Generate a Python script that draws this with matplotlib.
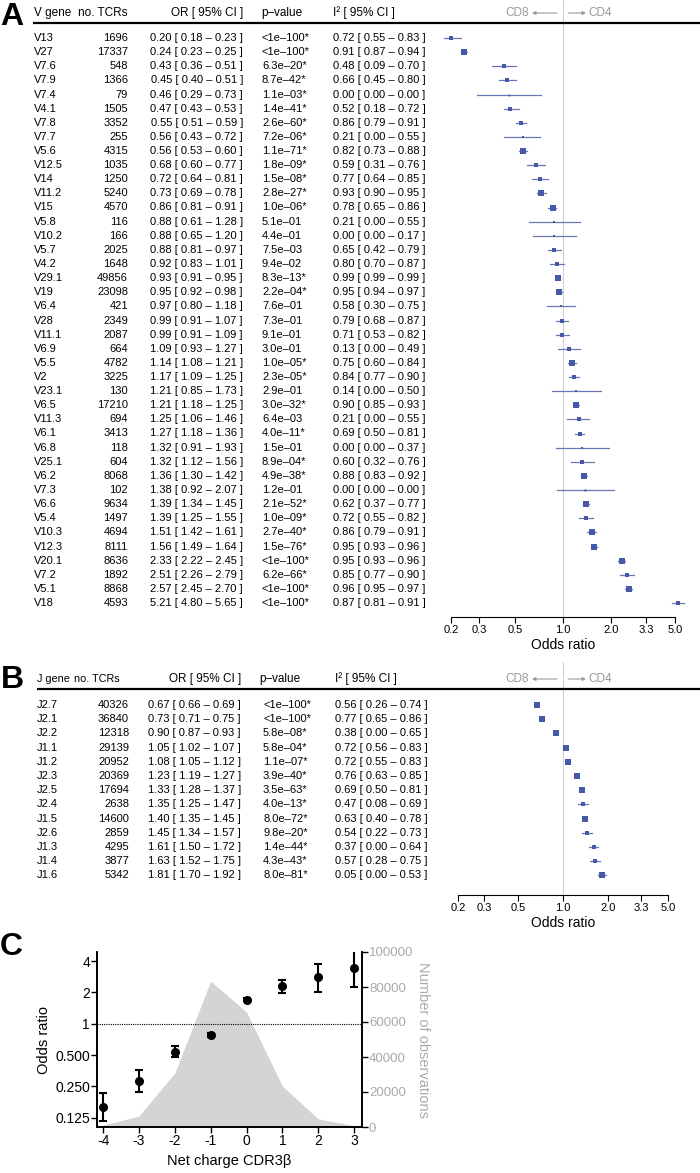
import numpy as np
import matplotlib
matplotlib.use('Agg')
import matplotlib.pyplot as plt
from matplotlib.transforms import blended_transform_factory

plt.rcParams['font.family'] = ['Liberation Sans', 'DejaVu Sans']
plt.rcParams['axes.unicode_minus'] = False

# ---- panel A: V genes ----
v_genes = ['V13', 'V27', 'V7.6', 'V7.9', 'V7.4', 'V4.1', 'V7.8', 'V7.7', 'V5.6', 'V12.5',
           'V14', 'V11.2', 'V15', 'V5.8', 'V10.2', 'V5.7', 'V4.2', 'V29.1', 'V19', 'V6.4',
           'V28', 'V11.1', 'V6.9', 'V5.5', 'V2', 'V23.1', 'V6.5', 'V11.3', 'V6.1', 'V6.8',
           'V25.1', 'V6.2', 'V7.3', 'V6.6', 'V5.4', 'V10.3', 'V12.3', 'V20.1', 'V7.2', 'V5.1', 'V18']
v_n = [1696, 17337, 548, 1366, 79, 1505, 3352, 255, 4315, 1035,
       1250, 5240, 4570, 116, 166, 2025, 1648, 49856, 23098, 421,
       2349, 2087, 664, 4782, 3225, 130, 17210, 694, 3413, 118,
       604, 8068, 102, 9634, 1497, 4694, 8111, 8636, 1892, 8868, 4593]
v_or = [0.20, 0.24, 0.43, 0.45, 0.46, 0.47, 0.55, 0.56, 0.56, 0.68,
        0.72, 0.73, 0.86, 0.88, 0.88, 0.88, 0.92, 0.93, 0.95, 0.97,
        0.99, 0.99, 1.09, 1.14, 1.17, 1.21, 1.21, 1.25, 1.27, 1.32,
        1.32, 1.36, 1.38, 1.39, 1.39, 1.51, 1.56, 2.33, 2.51, 2.57, 5.21]
v_lo = [0.18, 0.23, 0.36, 0.40, 0.29, 0.43, 0.51, 0.43, 0.53, 0.60,
        0.64, 0.69, 0.81, 0.61, 0.65, 0.81, 0.83, 0.91, 0.92, 0.80,
        0.91, 0.91, 0.93, 1.08, 1.09, 0.85, 1.18, 1.06, 1.18, 0.91,
        1.12, 1.30, 0.92, 1.34, 1.25, 1.42, 1.49, 2.22, 2.26, 2.45, 4.80]
v_hi = [0.23, 0.25, 0.51, 0.51, 0.73, 0.53, 0.59, 0.72, 0.60, 0.77,
        0.81, 0.78, 0.91, 1.28, 1.20, 0.97, 1.01, 0.95, 0.98, 1.18,
        1.07, 1.09, 1.27, 1.21, 1.25, 1.73, 1.25, 1.46, 1.36, 1.93,
        1.56, 1.42, 2.07, 1.45, 1.55, 1.61, 1.64, 2.45, 2.79, 2.70, 5.65]
v_p = ['<1e–100*', '<1e–100*', '6.3e–20*', '8.7e–42*', '1.1e–03*', '1.4e–41*', '2.6e–60*',
       '7.2e–06*', '1.1e–71*', '1.8e–09*', '1.5e–08*', '2.8e–27*', '1.0e–06*', '5.1e–01',
       '4.4e–01', '7.5e–03', '9.4e–02', '8.3e–13*', '2.2e–04*', '7.6e–01', '7.3e–01',
       '9.1e–01', '3.0e–01', '1.0e–05*', '2.3e–05*', '2.9e–01', '3.0e–32*', '6.4e–03',
       '4.0e–11*', '1.5e–01', '8.9e–04*', '4.9e–38*', '1.2e–01', '2.1e–52*', '1.0e–09*',
       '2.7e–40*', '1.5e–76*', '<1e–100*', '6.2e–66*', '<1e–100*', '<1e–100*']
v_i2 = [0.72, 0.91, 0.48, 0.66, 0.00, 0.52, 0.86, 0.21, 0.82, 0.59,
        0.77, 0.93, 0.78, 0.21, 0.00, 0.65, 0.80, 0.99, 0.95, 0.58,
        0.79, 0.71, 0.13, 0.75, 0.84, 0.14, 0.90, 0.21, 0.69, 0.00,
        0.60, 0.88, 0.00, 0.62, 0.72, 0.86, 0.95, 0.95, 0.85, 0.96, 0.87]
v_i2lo = [0.55, 0.87, 0.09, 0.45, 0.00, 0.18, 0.79, 0.00, 0.73, 0.31,
          0.64, 0.90, 0.65, 0.00, 0.00, 0.42, 0.70, 0.99, 0.94, 0.30,
          0.68, 0.53, 0.00, 0.60, 0.77, 0.00, 0.85, 0.00, 0.50, 0.00,
          0.32, 0.83, 0.00, 0.37, 0.55, 0.79, 0.93, 0.93, 0.77, 0.95, 0.81]
v_i2hi = [0.83, 0.94, 0.70, 0.80, 0.00, 0.72, 0.91, 0.55, 0.88, 0.76,
          0.85, 0.95, 0.86, 0.55, 0.17, 0.79, 0.87, 0.99, 0.97, 0.75,
          0.87, 0.82, 0.49, 0.84, 0.90, 0.50, 0.93, 0.55, 0.81, 0.37,
          0.76, 0.92, 0.00, 0.77, 0.82, 0.91, 0.96, 0.96, 0.90, 0.97, 0.91]

# ---- panel B: J genes ----
j_genes = ['J2.7', 'J2.1', 'J2.2', 'J1.1', 'J1.2', 'J2.3', 'J2.5', 'J2.4', 'J1.5', 'J2.6',
           'J1.3', 'J1.4', 'J1.6']
j_n = [40326, 36840, 12318, 29139, 20952, 20369, 17694, 2638, 14600, 2859, 4295, 3877, 5342]
j_or = [0.67, 0.73, 0.90, 1.05, 1.08, 1.23, 1.33, 1.35, 1.40, 1.45, 1.61, 1.63, 1.81]
j_lo = [0.66, 0.71, 0.87, 1.02, 1.05, 1.19, 1.28, 1.25, 1.35, 1.34, 1.50, 1.52, 1.70]
j_hi = [0.69, 0.75, 0.93, 1.07, 1.12, 1.27, 1.37, 1.47, 1.45, 1.57, 1.72, 1.75, 1.92]
j_p = ['<1e–100*', '<1e–100*', '5.8e–08*', '5.8e–04*', '1.1e–07*', '3.9e–40*', '3.5e–63*',
       '4.0e–13*', '8.0e–72*', '9.8e–20*', '1.4e–44*', '4.3e–43*', '8.0e–81*']
j_i2 = [0.56, 0.77, 0.38, 0.72, 0.72, 0.76, 0.69, 0.47, 0.63, 0.54, 0.37, 0.57, 0.05]
j_i2lo = [0.26, 0.65, 0.00, 0.56, 0.55, 0.63, 0.50, 0.08, 0.40, 0.22, 0.00, 0.28, 0.00]
j_i2hi = [0.74, 0.86, 0.65, 0.83, 0.83, 0.85, 0.81, 0.69, 0.78, 0.73, 0.64, 0.75, 0.53]

or_ticks = [0.2, 0.3, 0.5, 1.0, 2.0, 3.3, 5.0]
or_ticklabels = ['0.2', '0.3', '0.5', '1.0', '2.0', '3.3', '5.0']

# ---- panel C: net charge ----
charge = [-4, -3, -2, -1, 0, 1, 2, 3]
charge_or = [0.16, 0.28, 0.535, 0.78, 1.71, 2.29, 2.79, 3.41]
charge_lo = [0.117, 0.219, 0.478, 0.75, 1.66, 1.96, 2.04, 2.24]
charge_hi = [0.214, 0.357, 0.61, 0.81, 1.76, 2.62, 3.73, 5.24]
charge_nobs = [1000, 6300, 30900, 83400, 65700, 23400, 4600, 800]

W, H = 700, 1173
SQ = '#4659a6'
LN = '#6a77b3'
GREY = '#999999'

fig = plt.figure(figsize=(W / 100, H / 100), dpi=100)
ov = fig.add_axes([0, 0, 1, 1])
ov.set_xlim(0, W)
ov.set_ylim(H, 0)
ov.axis('off')
ov.set_zorder(5)
ov.patch.set_alpha(0)


def px_axes(left, top, right, bottom):
    return fig.add_axes([left / W, 1 - bottom / H, (right - left) / W, (bottom - top) / H])


def forest(ax, ors, los, his, first_px, step, top_px, bottom_px):
    n = len(ors)
    ax.set_xscale('log')
    ax.set_ylim((bottom_px - first_px) / step, (top_px - first_px) / step)
    ax.axvline(1.0, color='#d0d0d0', lw=0.8, zorder=0)
    for i in range(n):
        se = (np.log(his[i]) - np.log(los[i])) / 3.92
        side = np.clip(0.9 / np.sqrt(se), 1.5, 6.0)
        ax.plot([los[i], his[i]], [i, i], color=LN, lw=0.9, clip_on=False, zorder=2)
        ax.plot(ors[i], i, marker='s', ms=side * 0.72, color=SQ, mew=0, clip_on=False, zorder=3)
    ax.set_xticks(or_ticks)
    ax.set_xticklabels(or_ticklabels, fontsize=8)
    ax.xaxis.set_minor_locator(matplotlib.ticker.NullLocator())
    ax.set_yticks([])
    for s in ['left', 'top', 'right']:
        ax.spines[s].set_visible(False)
    ax.spines['bottom'].set_linewidth(0.8)
    ax.tick_params(axis='x', length=4, width=0.8, pad=2)
    ax.set_xlabel('Odds ratio', fontsize=10, labelpad=2)
    ax.patch.set_alpha(0)


def table(ax, genes, ns, ors, los, his, ps, i2, i2lo, i2hi, cols):
    tr = blended_transform_factory(ov.transData, ax.transData)
    kw = dict(fontsize=8, va='center', transform=tr)
    for i in range(len(genes)):
        ov.text(cols[0], i, genes[i], ha='left', **kw)
        ov.text(cols[1], i, str(ns[i]), ha='right', **kw)
        ov.text(cols[2], i, '%.2f [ %.2f – %.2f ]' % (ors[i], los[i], his[i]), ha='right', **kw)
        ov.text(cols[3], i, ps[i], ha='left', **kw)
        ov.text(cols[4], i, '%.2f [ %.2f – %.2f ]' % (i2[i], i2lo[i], i2hi[i]), ha='left', **kw)


def header(y, gene_title, cols, line_left, small=8.5):
    kw = dict(fontsize=8.5, va='center')
    ov.text(cols[0], y, gene_title, ha='left', fontsize=small, va='center')
    ov.text(cols[1], y, 'no. TCRs', ha='right', fontsize=small, va='center')
    ov.text(cols[2], y, 'OR [ 95% CI ]', ha='right', **kw)
    ov.text(cols[3], y, 'p–value', ha='left', **kw)
    ov.text(cols[4], y, 'I² [ 95% CI ]', ha='left', **kw)
    ov.text(529, y, 'CD8', ha='right', color=GREY, **kw)
    ov.text(588, y, 'CD4', ha='left', color=GREY, **kw)
    ap = dict(arrowstyle='-|>', color=GREY, lw=0.8, mutation_scale=5, shrinkA=0, shrinkB=0)
    ov.annotate('', xy=(532, y), xytext=(557, y), arrowprops=ap)
    ov.annotate('', xy=(586, y), xytext=(568, y), arrowprops=ap)
    ov.plot([line_left, W], [y + 10, y + 10], color='black', lw=1.6, solid_capstyle='butt')


# panel A
axA = px_axes(451, 0, 675, 617)
forest(axA, v_or, v_lo, v_hi, 38, 14.125, 0, 617)
axA.set_xlim(0.2, 5.0)
colsA = [34, 128, 243, 262, 333]
table(axA, v_genes, v_n, v_or, v_lo, v_hi, v_p, v_i2, v_i2lo, v_i2hi, colsA)
header(13, 'V gene', [34, 128, 243, 261, 333], 33)
ov.text(0, 17, 'A', fontsize=23, fontweight='bold', va='center', ha='left')

# panel B
axB = px_axes(458, 662, 668, 895)
forest(axB, j_or, j_lo, j_hi, 705, 14.2, 662, 895)
axB.set_xlim(0.2, 5.0)
colsB = [37, 129, 241, 263, 335]
table(axB, j_genes, j_n, j_or, j_lo, j_hi, j_p, j_i2, j_i2lo, j_i2hi, colsB)
header(679, 'J gene', [37, 120, 241, 259, 335], 37, small=7.8)
ov.text(1, 680, 'B', fontsize=23, fontweight='bold', va='center', ha='left')

# panel C
axC = px_axes(97, 952, 362, 1127)
tw = axC.twinx()
tw.fill_between(charge, 0, charge_nobs, color='#d4d4d4', lw=0)
tw.set_ylim(0, 100000)
tw.set_yticks(range(0, 100001, 20000))
tw.tick_params(axis='y', labelsize=9.5, labelcolor='#aaaaaa', length=4, width=1.0, pad=1)
tw.set_ylabel('Number of observations', fontsize=10.5, color='#aaaaaa', rotation=270, labelpad=12)
axC.set_zorder(tw.get_zorder() + 1)
axC.patch.set_visible(False)

axC.set_yscale('log', base=2)
axC.set_ylim(0.102, 4.89)
axC.set_xlim(-4.17, 3.22)
axC.axhline(1, color='black', ls=(0, (1, 1)), lw=0.8)
err = [np.array(charge_or) - np.array(charge_lo), np.array(charge_hi) - np.array(charge_or)]
axC.errorbar(charge, charge_or, yerr=err, fmt='o', color='black', ms=5.5,
             elinewidth=1.5, capsize=2.6, capthick=1.5)
axC.set_yticks([0.125, 0.25, 0.5, 1, 2, 4])
axC.set_yticklabels(['0.125', '0.250', '0.500', '1', '2', '4'])
axC.yaxis.set_minor_locator(matplotlib.ticker.NullLocator())
axC.set_xticks(charge)
axC.set_xticklabels([str(c) for c in charge])
axC.tick_params(labelsize=10, length=4, width=1.0, pad=1)
axC.set_ylabel('Odds ratio', fontsize=10.5, labelpad=3)
axC.set_xlabel('Net charge CDR3β', fontsize=10.5, labelpad=4)
for a in (axC, tw):
    a.spines['top'].set_visible(False)
    for s in ['left', 'bottom', 'right']:
        a.spines[s].set_linewidth(1.2)
ov.text(0, 947, 'C', fontsize=23, fontweight='bold', va='center', ha='left')

fig.savefig('out.png', dpi=100)
